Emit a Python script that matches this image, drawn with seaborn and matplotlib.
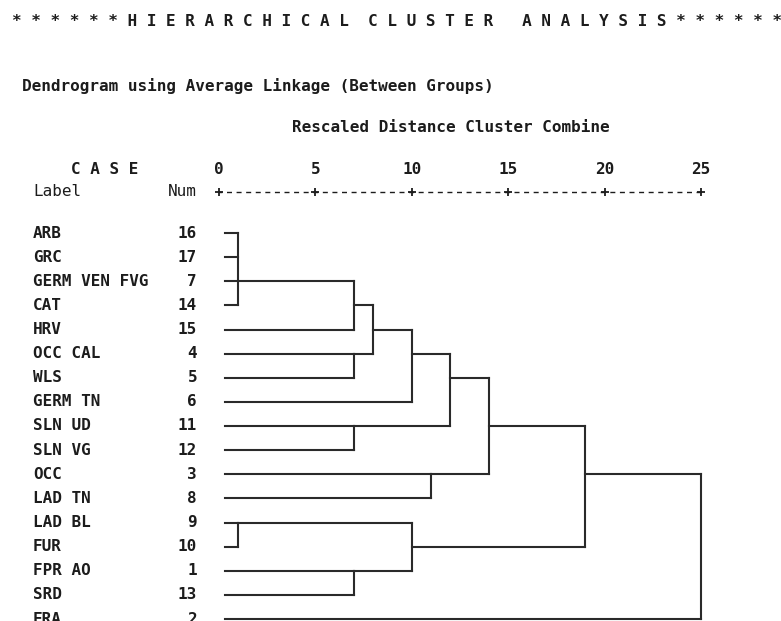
import matplotlib

matplotlib.use("Agg")
import matplotlib.pyplot as plt
import pandas as pd
import seaborn as sns

sns.set_style("white")
plt.rcParams["font.family"] = ["DejaVu Sans Mono"]

# cases in the order SPSS prints them
labels = ["ARB", "GRC", "GERM VEN FVG", "CAT", "HRV", "OCC CAL", "WLS", "GERM TN",
          "SLN UD", "SLN VG", "OCC", "LAD TN", "LAD BL", "FUR", "FPR AO", "SRD", "FRA"]
case_nums = [16, 17, 7, 14, 15, 4, 5, 6, 11, 12, 3, 8, 9, 10, 1, 13, 2]

# clusters get ids after the leaves (17, 18, ...), in the order they are joined
merge_children = [[0, 1, 2, 3], [17, 4], [5, 6], [18, 19], [20, 7], [8, 9], [21, 22],
                  [10, 11], [23, 24], [12, 13], [14, 15], [26, 27], [25, 28], [29, 16]]
merge_dist = [1.0, 7.0, 7.0, 8.0, 10.0, 7.0, 12.0, 11.0, 14.0, 1.0, 7.0, 10.0, 19.0, 25.0]
# row on which the joined cluster leaves its bracket (text layout of SPSS)
merge_row = [2, 3, 5, 4, 5, 8, 6, 10, 8, 12, 14, 13, 10, 10]

scale_ticks = [0, 5, 10, 15, 20, 25]

INK = "#1c1c1c"
W, H = 781, 621


def fx(px):
    return px / W


def fy(py):
    return 1 - py / H


# build the bracket segments
n = len(labels)
node_row = list(range(n))
node_dist = [0.3] * n
rows_out = []
seg = 0
for children, d, row in zip(merge_children, merge_dist, merge_row):
    rows = [node_row[c] for c in children]
    for c in children:
        rows_out += [(seg, node_dist[c], node_row[c]), (seg, d, node_row[c])]
        seg += 1
    rows_out += [(seg, d, min(rows)), (seg, d, max(rows))]
    seg += 1
    node_row.append(row)
    node_dist.append(d)
segments = pd.DataFrame(rows_out, columns=["seg", "x", "y"])

fig = plt.figure(figsize=(W / 100, H / 100), dpi=100)
ax = fig.add_axes([0, 0, 1, 1])
px_per_unit = (701 - 219) / 25
row_h = (619 - 233) / 16
ax.set_xlim(-219 / px_per_unit, (W - 219) / px_per_unit)
ax.set_ylim((H - 233) / row_h, -233 / row_h)
ax.axis("off")

sns.lineplot(data=segments, x="x", y="y", units="seg", estimator=None, sort=False,
             color="#2a2a2a", linewidth=1.5, solid_capstyle="projecting", ax=ax)

# distance scale
ruler_y = (192 - 233) / row_h
tick_y = (170 - 233) / row_h
ax.plot([0, 25], [ruler_y, ruler_y], color=INK, lw=1.0, ls=(1.5, (3.6, 3.3)))
ax.plot(scale_ticks, [ruler_y] * len(scale_ticks), ls="none", marker="+",
        ms=6, mew=1.3, color=INK)
for t in scale_ticks:
    ax.text(t, tick_y, str(t), ha="center", va="center", fontsize=11.5,
            fontweight="bold", color=INK)

# case labels and numbers
tr = ax.get_yaxis_transform()
for i, (lab, num) in enumerate(zip(labels, case_nums)):
    ax.text(fx(33), i, lab, transform=tr, ha="left", va="center",
            fontsize=11.5, fontweight="bold", color=INK)
    ax.text(fx(197), i, str(num), transform=tr, ha="right", va="center",
            fontsize=11.5, fontweight="bold", color=INK)

title = "* * * * * * H I E R A R C H I C A L  C L U S T E R   A N A L Y S I S * * * * * *"
fig.text(fx(12), fy(21), title, ha="left", va="center", fontsize=11.5,
         fontweight="bold", color=INK)
fig.text(fx(22), fy(86), "Dendrogram using Average Linkage (Between Groups)",
         ha="left", va="center", fontsize=11.5, fontweight="bold", color=INK)
fig.text(fx(292), fy(127), "Rescaled Distance Cluster Combine",
         ha="left", va="center", fontsize=11.5, fontweight="bold", color=INK)
fig.text(fx(71), fy(170), "C A S E", ha="left", va="center", fontsize=11.5,
         fontweight="bold", color=INK)
fig.text(fx(33), fy(192), "Label", ha="left", va="center", fontsize=11.5, color=INK)
fig.text(fx(197), fy(192), "Num", ha="right", va="center", fontsize=11.5, color=INK)

fig.savefig("out.png", dpi=100, facecolor="white")
